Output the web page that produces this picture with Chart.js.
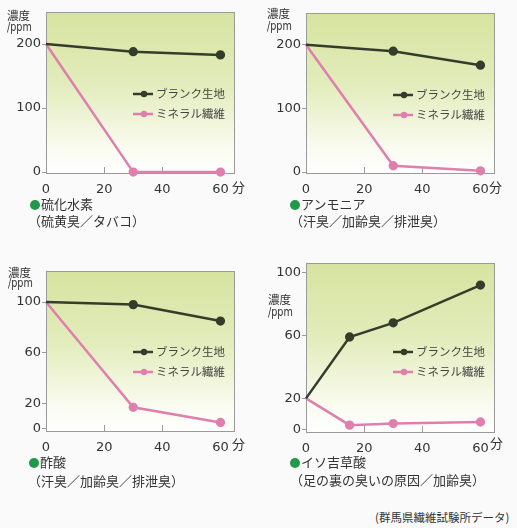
<!DOCTYPE html>
<html>
<head>
<meta charset="utf-8">
<title>消臭効果</title>
<script src="https://cdn.jsdelivr.net/npm/chart.js@4.4.0/dist/chart.umd.min.js"></script>
<style>
  body { margin: 0; background: #fafafa; }
  #page { position: relative; width: 517px; height: 528px; overflow: hidden;
          font-family: 'Noto Sans CJK JP', sans-serif; color: #333; }
  .box { position: absolute; }
  .t { position: absolute; white-space: nowrap; line-height: 16px; }
  .yt { font-size: 11.5px; }
  .ppm { font-family: 'DejaVu Sans', sans-serif; font-size: 12px;
         transform: scaleX(0.8); transform-origin: left center; }
  .fun { font-size: 13px; }
  .cap { font-size: 13px; }
  .dot { display: inline-block; width: 10px; height: 10px; border-radius: 50%;
         background: #22994a; margin-right: 1px; vertical-align: -1px; }
  .src { font-size: 11.5px; }
</style>
</head>
<body>
<div id="page">
  <div class="box" id="wA" style="left:0;top:0;width:258px;height:200px"><canvas id="cA"></canvas></div>
  <div class="box" id="wB" style="left:258px;top:0;width:259px;height:200px"><canvas id="cB"></canvas></div>
  <div class="box" id="wC" style="left:0;top:250px;width:258px;height:208px"><canvas id="cC"></canvas></div>
  <div class="box" id="wD" style="left:258px;top:250px;width:259px;height:209px"><canvas id="cD"></canvas></div>

  <!-- axis titles -->
  <div class="t yt" style="left:7px;top:7px">濃度</div>
  <div class="t ppm" style="left:7px;top:19px">/ppm</div>
  <div class="t yt" style="left:267px;top:5px">濃度</div>
  <div class="t ppm" style="left:267px;top:18px">/ppm</div>
  <div class="t yt" style="left:8px;top:264px">濃度</div>
  <div class="t ppm" style="left:8px;top:275px">/ppm</div>
  <div class="t yt" style="left:268px;top:291px">濃度</div>
  <div class="t ppm" style="left:268px;top:304px">/ppm</div>

  <div class="t fun" style="left:232px;top:179px">分</div>
  <div class="t fun" style="left:489px;top:179px">分</div>
  <div class="t fun" style="left:232px;top:436px">分</div>
  <div class="t fun" style="left:490px;top:435px">分</div>

  <!-- captions -->
  <div class="t cap" style="left:30px;top:196px"><span class="dot"></span>硫化水素</div>
  <div class="t cap" style="left:28px;top:213px">（硫黄臭／タバコ）</div>
  <div class="t cap" style="left:290px;top:196px"><span class="dot"></span>アンモニア</div>
  <div class="t cap" style="left:290px;top:213px">（汗臭／加齢臭／排泄臭）</div>
  <div class="t cap" style="left:29px;top:454px"><span class="dot"></span>酢酸</div>
  <div class="t cap" style="left:28px;top:473px">（汗臭／加齢臭／排泄臭）</div>
  <div class="t cap" style="left:290px;top:454px"><span class="dot"></span>イソ吉草酸</div>
  <div class="t cap" style="left:290px;top:472px">（足の裏の臭いの原因／加齢臭）</div>

  <div class="t src" style="left:375px;top:509px">(群馬県繊維試験所データ)</div>
</div>

<script>
  // data
  const seriesLabels = ['ブランク生地', 'ミネラル繊維']
  const xTicks = [0, 20, 40, 60]
  const yTicksHigh = [0, 100, 200]
  const yTicksLow = [0, 20, 60, 100]

  const timesA = [0, 30, 60]
  const blankA = [200, 188, 183]
  const mineralA = [200, 0, 0]

  const timesB = [0, 30, 60]
  const blankB = [200, 190, 168]
  const mineralB = [200, 10, 2]

  const timesC = [0, 30, 60]
  const blankC = [100, 98, 85]
  const mineralC = [100, 17, 5]

  const timesD = [0, 15, 30, 60]
  const blankD = [20, 59, 68, 92]
  const mineralD = [20, 3, 4, 5]

  const colors = ['#343d2c', '#e07fae']

  Chart.defaults.font.family = "'DejaVu Sans', sans-serif"
  Chart.defaults.font.size = 13
  Chart.defaults.color = '#333'

  // gradient background + frame + inner x ticks
  const plotFrame = {
    id: 'plotFrame',
    beforeDraw(chart) {
      const { ctx, chartArea: { top, bottom, left, right } } = chart
      const g = ctx.createLinearGradient(0, top, 0, bottom)
      g.addColorStop(0, '#d6e4a0')
      g.addColorStop(0.45, '#e3ecbc')
      g.addColorStop(0.85, '#fafcf2')
      g.addColorStop(1, '#ffffff')
      ctx.save()
      ctx.fillStyle = g
      ctx.fillRect(left, top, right - left, bottom - top)
      ctx.restore()
    },
    beforeDatasetsDraw(chart) {
      const { ctx, chartArea: { top, bottom, left, right }, scales: { x } } = chart
      ctx.save()
      ctx.strokeStyle = '#9a9a9a'
      ctx.lineWidth = 1
      ctx.strokeRect(left + 0.5, top + 0.5, right - left - 1, bottom - top - 1)
      ctx.beginPath()
      xTicks.slice(1, -1).forEach(v => {
        const px = Math.round(x.getPixelForValue(v)) + 0.5
        ctx.moveTo(px, bottom)
        ctx.lineTo(px, bottom - 7)
      })
      ctx.stroke()
      ctx.restore()
    },
  }

  // legend drawn inside the plot
  const innerLegend = {
    id: 'innerLegend',
    afterDatasetsDraw(chart, args, options) {
      const { ctx, chartArea: { top, left } } = chart
      ctx.save()
      chart.data.datasets.forEach((ds, i) => {
        const x0 = left + options.dx
        const y0 = top + options.dy + i * 20
        ctx.strokeStyle = ds.borderColor
        ctx.lineWidth = 2.5
        ctx.beginPath()
        ctx.moveTo(x0, y0)
        ctx.lineTo(x0 + 20, y0)
        ctx.stroke()
        ctx.fillStyle = ds.borderColor
        ctx.beginPath()
        ctx.arc(x0 + 11, y0, 3.2, 0, Math.PI * 2)
        ctx.fill()
        ctx.fillStyle = '#444'
        ctx.font = "11.5px 'Noto Sans CJK JP'"
        ctx.textBaseline = 'middle'
        ctx.fillText(ds.label, x0 + 23, y0)
      })
      ctx.restore()
    },
  }

  function makeChart(id, times, blank, mineral, yTicks, yMin, yMax, pad, yWidth, legendDy) {
    const sets = [blank, mineral].map((vals, i) => ({
      label: seriesLabels[i],
      data: times.map((t, j) => ({ x: t, y: vals[j] })),
      borderColor: colors[i],
      backgroundColor: colors[i],
      borderWidth: 2.5,
      pointRadius: c => (c.raw && c.raw.x === 0 ? 0 : 3.4),
      pointHoverRadius: 0,
      tension: 0,
      clip: 4,
    }))
    return new Chart(document.getElementById(id), {
      type: 'line',
      data: { datasets: sets },
      options: {
        responsive: true,
        maintainAspectRatio: false,
        animation: false,
        events: [],
        layout: { padding: { left: 0, top: pad.top, right: pad.right, bottom: 0 } },
        scales: {
          x: {
            type: 'linear',
            min: 0,
            max: 65,
            afterBuildTicks: s => { s.ticks = xTicks.map(v => ({ value: v })) },
            afterFit: s => { s.height = 26 },
            grid: { display: false },
            border: { display: false },
            ticks: { padding: 0, maxRotation: 0 },
          },
          y: {
            min: yMin,
            max: yMax,
            afterBuildTicks: s => { s.ticks = yTicks.map(v => ({ value: v })) },
            afterFit: s => { s.width = yWidth },
            grid: { drawOnChartArea: false, tickLength: 4, color: '#9a9a9a' },
            border: { display: false },
            ticks: { padding: 1 },
          },
        },
        plugins: {
          legend: { display: false },
          tooltip: { enabled: false },
          innerLegend: { dx: 87, dy: legendDy },
        },
      },
      plugins: [plotFrame, innerLegend],
    })
  }

  makeChart('cA', timesA, blankA, mineralA, yTicksHigh, -3, 250, { top: 12, right: 23 }, 46, 82)
  makeChart('cB', timesB, blankB, mineralB, yTicksHigh, -3, 250, { top: 13, right: 22 }, 48, 82)
  makeChart('cC', timesC, blankC, mineralC, yTicksLow, -2.5, 124.5, { top: 21, right: 23 }, 46, 81)
  makeChart('cD', timesD, blankD, mineralD, yTicksLow, -2, 106, { top: 13, right: 22 }, 48, 89)
</script>
</body>
</html>
